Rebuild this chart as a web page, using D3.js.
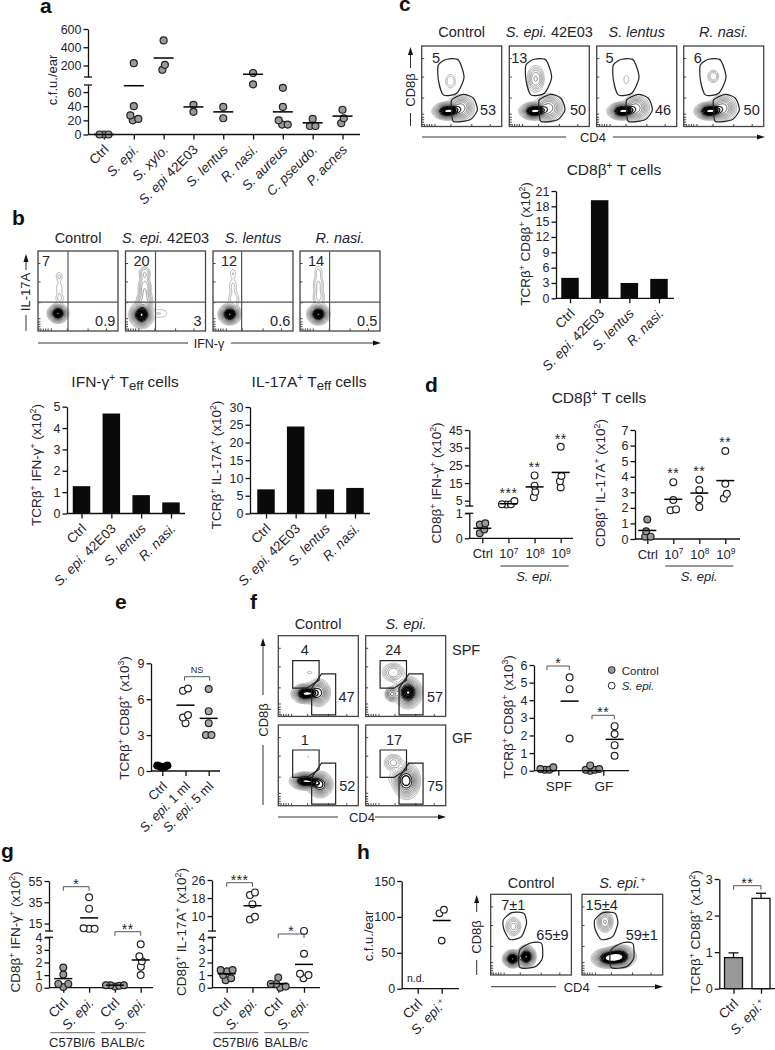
<!DOCTYPE html>
<html>
<head>
<meta charset="utf-8">
<script src="https://cdn.jsdelivr.net/npm/d3@7"></script>
<style>
body { margin: 0; background: #fff; }
text { font-family: "Liberation Sans", Arial, sans-serif; fill: #24242c; }
.tick text { fill: #24242c; }
</style>
</head>
<body>
<script>
// panel a
var aCats = ["Ctrl", "_S. epi._", "_S. xylo._", "_S. epi_ 42E03", "_S. lentus_", "_R. nasi._", "_S. aureus_", "_C. pseudo._", "_P. acnes_"];
var aVals = [[0, 0, 0], [225, 40, 27, 20, 22], [475, 207, 153], [42, 32], [39, 23], [118, 71], [66, 39, 20, 14, 14], [22, 12, 12], [35, 23, 16]];
var aMeans = [0, 69, 282, 39, 32, 104, 32, 16.5, 26];

// panel b
var bBarCats = ["Ctrl", "_S. epi._ 42E03", "_S. lentus_", "_R. nasi._"];
var bIfn = [1.28, 4.68, 0.86, 0.52];
var bIl17 = [6.8, 24.5, 6.8, 7.2];
var bTitles = ["Control", "_S. epi._ 42E03", "_S. lentus_", "_R. nasi._"];
var bQ = [["7", "0.9"], ["20", "3"], ["12", "0.6"], ["14", "0.5"]];
// populations: cx, cy, sdx, sdy, peak (in plot units)
var bPops = [
  [[.25, .22, .06, .055, 1], [.265, .68, .028, .04, .1], [.265, .54, .03, .05, .08], [.27, .41, .035, .05, .1]],
  [[.2, .2, .07, .075, 1], [.24, .72, .04, .05, .2], [.24, .55, .045, .07, .25], [.24, .38, .055, .07, .28], [.43, .22, .07, .04, .09]],
  [[.21, .21, .065, .06, 1], [.25, .72, .026, .04, .09], [.25, .56, .033, .06, .1], [.26, .4, .045, .06, .12]],
  [[.23, .21, .065, .06, 1], [.23, .74, .033, .05, .1], [.23, .58, .04, .07, .15], [.235, .42, .045, .06, .15]]
];

// panel c
var cTitles = ["Control", "_S. epi._ 42E03", "_S. lentus_", "_R. nasi._"];
var cQ = [["5", "53"], ["13", "50"], ["5", "46"], ["6", "50"]];
var cPops = [
  [[.31, .186, .08, .05, 1], [.49, .225, .08, .08, .6], [.36, .56, .04, .055, .14]],
  [[.3, .186, .08, .05, 1], [.49, .225, .085, .085, .6], [.33, .59, .055, .085, .36]],
  [[.31, .186, .08, .05, 1], [.49, .225, .08, .08, .6], [.37, .58, .03, .05, .07]],
  [[.31, .186, .08, .05, 1], [.49, .225, .08, .08, .6], [.37, .62, .04, .045, .2]]
];
var cGateUp = [[.208, .764], [.3125, .835], [.458, .826], [.529, .612], [.4375, .413], [.271, .393], [.208, .579]];
var cGateLow = [[.375, .33], [.52, .4], [.646, .351], [.696, .207], [.604, .083], [.396, .062], [.375, .207]];
var cBars = [4, 19.2, 3, 3.8];

// panel d
var dCats = ["Ctrl", "10^7^", "10^8^", "10^9^"];
var dIfn = [[.6, .55, .2, .35], [3, 2.8, 3, 4.8], [19.3, 13.5, 10, 7], [35.5, 19, 16, 12.5]];
var dIfnMeans = [.4, 3.3, 12.8, 21];
var dIl17 = [[1.25, .5, .15, .15], [3.65, 2.5, 1.85, 1.9], [3.8, 3.15, 2.55, 2.05], [5.65, 3.55, 2.9, 2.6]];
var dIl17Means = [.55, 2.55, 2.95, 3.75];

// panel e
var eCats = ["Ctrl", "_S. epi._ 1 ml", "_S. epi._ 5 ml"];
var eVals = [[.45, .4, .35, .45, .3], [6.9, 6.7, 4.67, 4.47, 4], [6.85, 5, 4, 3, 3]];
var eMeans = [.4, 5.5, 4.4];

// panel f
var fGroups = ["SPF", "GF"];
var fSeries = ["Control", "_S. epi._"];
var fControl = [[.2, .1, .05, .05], [.3, .1, .05, 0, .05]];
var fEpi = [[5.3, 4.63, 1.83], [2.53, 2.08, 1.45, .85]];
var fEpiMeans = [3.95, 1.78];
var fQ = [["4", "47"], ["24", "57"], ["1", "52"], ["17", "75"]];
var fPops = [
  [[.33, .276, .075, .055, 1], [.5, .288, .07, .08, .7], [.39, .54, .03, .015, .07]],
  [[.346, .54, .07, .06, .35], [.325, .27, .04, .045, .55], [.53, .29, .08, .09, 1]],
  [[.33, .3, .085, .05, 1], [.52, .256, .075, .075, .8], [.375, .6, .008, .008, .06]],
  [[.346, .53, .06, .055, .3], [.51, .3, .08, .105, .8], [.4, .33, .09, .06, .08]]
];
var fGateUp = [[.18, .69], [.51, .69], [.51, .45], [.354, .35], [.18, .35]];
var fGateLow = [[.54, .527], [.717, .527], [.717, .02], [.417, .02], [.417, .35]];

// panel g
var gCats = ["Ctrl", "_S. epi._", "Ctrl", "_S. epi._"];
var gIfn = [[1.6, 1.05, .3, .3, .05], [39.7, 29, 10.5, 10, 10], [.2, .2, .15, .1, .2], [3.44, 2.5, 2.1, 1.67, 1]];
var gIfnMeans = [.72, 20.3, .2, 2.2];
var gIl17 = [[1.4, 1.4, 1.3, .75, .6, 1], [20.5, 19.3, 15.3, 9.7, 8.5], [.8, .3, .3, 0, .1], [3.45, 2.7, 1.1, 1, .75]];
var gIl17Means = [1.1, 14.6, .33, 1.85];

// panel h
var hCats = ["Ctrl", "_S. epi._^+^"];
var hCfu = [[], [110, 105, 67]];
var hCfuMeans = [null, 95];
var hBars = [.85, 2.47];
var hErrs = [.13, .14];
var hTitles = ["Control", "_S. epi._^+^"];
var hQ = [["7±1", "65±9"], ["15±4", "59±1"]];
var hPops = [
  [[.28, .6, .05, .06, .3], [.27, .2, .055, .05, 1], [.44, .227, .055, .065, 1]],
  [[.285, .66, .05, .065, .45], [.305, .207, .085, .055, .9], [.47, .227, .09, .065, 1]]
];
var hGateUp = [[.156, .68], [.26, .773], [.41, .764], [.444, .64], [.38, .475], [.24, .44], [.165, .56]];
var hGateLow = [[.36, .31], [.506, .4], [.63, .39], [.64, .207], [.547, .1], [.36, .095]];

var flowTicks = [.03, .06, .09, .12, .16, .36, .62, .85];
var flowLevels = [.05, .09, .14, .2, .27, .35, .44, .54, .65, .76, .86, .94, .985];

var svg = d3.select("body").append("svg").attr("width", 775).attr("height", 1050);

// small markup: _italic_ ^sup^ ~sub~
function rich(sel, str, size) {
  sel.text(null);
  var off = 0;
  str.split(/(_[^_]*_|\^[^^]*\^|~[^~]*~)/).filter(Boolean).forEach(function(p) {
    var t = sel.append("tspan"), shift = 0, s = p;
    if (p[0] == "_") { s = p.slice(1, -1); t.style("font-style", "italic"); }
    if (p[0] == "^") { s = p.slice(1, -1); t.attr("font-size", size * .65); shift = -size * .36; }
    if (p[0] == "~") { s = p.slice(1, -1); t.attr("font-size", size * .85); shift = size * .18; }
    t.attr("dy", shift - off).text(s);
    off = shift;
  });
  return sel;
}

function label(x, y, str, size, anchor, weight) {
  var t = svg.append("text").attr("x", x).attr("y", y)
    .attr("font-size", size).attr("text-anchor", anchor || "middle");
  if (weight) t.attr("font-weight", weight);
  return rich(t, str, size);
}

function yLabel(x, y, str, size) {
  var t = svg.append("text").attr("text-anchor", "middle").attr("font-size", size)
    .attr("transform", "translate(" + x + "," + y + ") rotate(-90)");
  return rich(t, str, size);
}

function seg(x1, y1, x2, y2, color, w) {
  return svg.append("line").attr("x1", x1).attr("y1", y1).attr("x2", x2).attr("y2", y2)
    .attr("stroke", color || "#111").attr("stroke-width", w || 1.3);
}

// y axis, one piece or broken in two
function makeY(x, lower, upper) {
  var low = d3.scaleLinear().domain(lower.domain).range(lower.range);
  var up = upper ? d3.scaleLinear().domain(upper.domain).range(upper.range) : null;
  function drawPiece(scale, ticks) {
    var g = svg.append("g").attr("transform", "translate(" + x + ",0)")
      .call(d3.axisLeft(scale).tickValues(ticks).tickSize(4.5).tickSizeOuter(0).tickPadding(2).tickFormat(d3.format("d")));
    g.selectAll("text").attr("font-size", 12.5);
    g.selectAll("line,path").attr("stroke", "#111").attr("stroke-width", 1.3);
    g.select("path").attr("fill", "none");
  }
  drawPiece(low, lower.ticks);
  if (up) {
    drawPiece(up, upper.ticks);
    seg(x - 4, low.range()[1], x + 4, low.range()[1]);
    seg(x - 4, up.range()[0], x + 4, up.range()[0]);
  }
  return function(v) { return up && v >= up.domain()[0] ? up(v) : low(v); };
}

function xAxis(axisX, y0, xEnd, x, cats, rotated, size) {
  var g = svg.append("g").attr("transform", "translate(0," + y0 + ")")
    .call(d3.axisBottom(x).tickSize(5).tickSizeOuter(0).tickFormat(""));
  g.select("path").remove();
  g.selectAll("line").attr("stroke", "#111").attr("stroke-width", 1.3);
  seg(axisX, y0, xEnd, y0);
  g.selectAll(".tick").each(function(d, i) {
    var t = d3.select(this).append("text").attr("font-size", size);
    if (rotated) {
      t.attr("text-anchor", "end").attr("transform", "translate(5,16) rotate(-45)");
    } else {
      t.attr("text-anchor", "middle").attr("y", 20);
    }
    rich(t, cats[i], size);
  });
}

// spread overlapping points sideways, the way the plotting program does
function dodge(ys, gap) {
  var pts = ys.map(function(y) { return { y: y, dx: 0 }; }).sort(function(a, b) { return b.y - a.y; });
  var placed = [];
  pts.forEach(function(p) {
    for (var k = 0; k < 60; k++) {
      var dx = (k % 2 ? 1 : -1) * Math.ceil(k / 2) * .5;
      var ok = placed.every(function(q) {
        return Math.hypot(q.dx - dx, q.y - p.y) >= gap;
      });
      if (ok) { p.dx = dx; placed.push(p); break; }
    }
  });
  var start = 0;
  for (var i = 1; i <= pts.length; i++) {
    if (i == pts.length || pts[i - 1].y - pts[i].y >= gap) {
      var cl = pts.slice(start, i), m = d3.mean(cl, function(p) { return p.dx; });
      cl.forEach(function(p) { p.dx -= m; });
      start = i;
    }
  }
  return pts;
}

function dots(x, y, vals, fill, r, gap) {
  var pts = dodge(vals.map(y), gap);
  svg.append("g").selectAll("circle").data(pts).join("circle")
    .attr("cx", function(d) { return x + d.dx; })
    .attr("cy", function(d) { return d.y; })
    .attr("r", r)
    .attr("fill", fill)
    .attr("stroke", fill == "#000" ? "#000" : "#222")
    .attr("stroke-width", 1.2);
}

function meanLine(x, y, half) {
  seg(x - half, y, x + half, y, "#000", 1.5);
}

function dotPanel(o) {
  var y = makeY(o.axisX, o.lower, o.upper);
  var x = d3.scalePoint().domain(d3.range(o.cats.length)).range(o.xs);
  xAxis(o.axisX, o.lower.range[0], o.xEnd, x, o.cats, o.rotated, o.labelSize || 13.5);
  o.vals.forEach(function(v, i) {
    dots(x(i), y, v, o.fills[i], o.r || 3.6, o.gaps ? o.gaps[i] : 5.5);
    if (o.means[i] != null) meanLine(x(i), y(o.means[i]), o.half || 9);
  });
  return x;
}

function barPanel(o) {
  var y = makeY(o.axisX, { domain: o.domain, range: o.range, ticks: o.ticks });
  var x = d3.scalePoint().domain(d3.range(o.cats.length)).range(o.xs);
  var y0 = o.range[0];
  svg.append("g").selectAll("rect").data(o.vals).join("rect")
    .attr("x", function(d, i) { return x(i) - o.width / 2; })
    .attr("y", function(d) { return y(d); })
    .attr("width", o.width)
    .attr("height", function(d) { return y0 - y(d); })
    .attr("fill", function(d, i) { return o.fills ? o.fills[i] : "#0a0a0a"; })
    .attr("stroke", "#111").attr("stroke-width", o.fills ? 1.3 : 0);
  if (o.errs) {
    o.errs.forEach(function(e, i) {
      var top = y(o.vals[i] + e);
      seg(x(i), y(o.vals[i]), x(i), top);
      seg(x(i) - 5, top, x(i) + 5, top);
    });
  }
  xAxis(o.axisX, y0, o.xEnd, x, o.cats, true, 13.5);
  return x;
}

function bracket(x0, x1, y, txt, size) {
  svg.append("path")
    .attr("d", "M" + x0 + "," + (y + 4) + "V" + y + "H" + x1 + "V" + (y + 4))
    .attr("fill", "none").attr("stroke", "#555").attr("stroke-width", 1);
  stars((x0 + x1) / 2, y - 4.5, txt, size);
}

function stars(x, y, txt, size) {
  if (txt == "NS") {
    label(x, y + 1, "NS", 9);
  } else {
    label(x, y + 6.5, txt, size || 14).attr("letter-spacing", .5);
  }
}

// a flow plot: mixture of populations, contoured. Flat-topped blobs give the
// dark ring the cytometry software draws around a dense population
function flow(x0, y0, w, h, pops, gates, curve, nums) {
  var n = 160;
  var values = new Float64Array(n * n);
  for (var j = 0; j < n; j++) {
    for (var i = 0; i < n; i++) {
      var px = (i + .5) / n, py = 1 - (j + .5) / n, s = 0;
      pops.forEach(function(p) {
        var a = (px - p[0]) / p[2], b = (py - p[1]) / p[3];
        s += p[4] * Math.exp(-.5 * Math.pow(Math.hypot(a, b) / 1.15, 2.6));
      });
      values[i + j * n] = s;
    }
  }
  var g = svg.append("g").attr("transform", "translate(" + x0 + "," + y0 + ")");
  var sx = d3.scaleLinear().domain([0, 1]).range([0, w]);
  var sy = d3.scaleLinear().domain([0, 1]).range([h, 0]);
  var path = d3.geoPath(d3.geoIdentity().scale(w / n));
  var tone = d3.scaleLinear().domain([.05, .4, .85]).range(["#8c8c8c", "#555", "#000"]).clamp(true);
  var wide = d3.scaleLinear().domain([.05, .5, .9]).range([.65, .8, 1.7]).clamp(true);
  g.selectAll("path.c").data(d3.contours().size([n, n]).thresholds(flowLevels)(values)).join("path")
    .attr("class", "c")
    .attr("d", path)
    .attr("fill", "none")
    .attr("stroke", function(d) { return tone(d.value); })
    .attr("stroke-width", function(d) { return wide(d.value); });

  var gx = g.append("g").attr("transform", "translate(0," + h + ")")
    .call(d3.axisBottom(sx).tickValues(flowTicks).tickSize(-2.5).tickFormat(""));
  var gy = g.append("g")
    .call(d3.axisLeft(sy).tickValues(flowTicks).tickSize(-2.5).tickFormat(""));
  [gx, gy].forEach(function(a) {
    a.select("path").remove();
    a.selectAll("line").attr("stroke", "#444").attr("stroke-width", 1);
  });
  g.append("rect").attr("width", w).attr("height", h).attr("fill", "none")
    .attr("stroke", "#444").attr("stroke-width", 1.3);

  var line = d3.line().x(function(d) { return sx(d[0]); }).y(function(d) { return sy(d[1]); }).curve(curve);
  (gates || []).forEach(function(q) {
    g.append("path").attr("d", line(q)).attr("fill", "none").attr("stroke", "#222").attr("stroke-width", 1.2);
  });
  (nums || []).forEach(function(t) {
    g.append("text").attr("x", sx(t[1])).attr("y", sy(t[2]) + 5.5)
      .attr("font-size", 14.5).attr("text-anchor", "middle").text(t[0]);
  });
  return { sx: sx, sy: sy, g: g };
}

function arrowRight(x1, x2, y) {
  seg(x1, y, x2 - 7, y, "#333", 1);
  svg.append("path").attr("d", "M" + x2 + "," + y + "l-8,-2.5v5z").attr("fill", "#111");
}

function arrowUp(x, y1, y2) {
  seg(x, y1, x, y2 + 7, "#333", 1);
  svg.append("path").attr("d", "M" + x + "," + y2 + "l-2.5,8h5z").attr("fill", "#111");
}

// ---------------- panel letters
[["a", 40, 13], ["b", 12, 225], ["c", 399, 11], ["d", 425, 392], ["e", 115, 609], ["f", 250, 609], ["g", 1, 858], ["h", 357, 859]]
  .forEach(function(d) { label(d[1], d[2], d[0], 21, "start", "bold").style("fill", "#111"); });

// ---------------- a
dotPanel({
  axisX: 88, xs: [104, 342.5], xEnd: 360, cats: aCats, vals: aVals, means: aMeans, rotated: true,
  lower: { domain: [0, 70], range: [134.5, 85], ticks: [0, 20, 40, 60] },
  upper: { domain: [74, 600], range: [77, 29], ticks: [200, 400, 600] },
  fills: aVals.map(function() { return "#999"; }), half: 10, r: 3.5,
  gaps: [4.5, 5.5, 5.5, 5.5, 5.5, 5.5, 5.5, 5.5, 5.5]
});
yLabel(57, 80, "c.f.u./ear", 13);

// ---------------- b
var bBoxes = [38, 125.5, 213, 300];
var bVert = [.375, .375, .358, .37];
bBoxes.forEach(function(x, i) {
  var f = flow(x, 251, 80, 80, bPops[i], null, d3.curveLinearClosed, [
    [bQ[i][0], i == 0 ? .1 : .2, .88],
    [bQ[i][1], i == 1 ? .9 : .84, .13]
  ]);
  f.g.append("line").attr("x1", f.sx(bVert[i])).attr("x2", f.sx(bVert[i])).attr("y1", 0).attr("y2", 80).attr("stroke", "#555").attr("stroke-width", 1.2);
  f.g.append("line").attr("x1", 0).attr("x2", 80).attr("y1", f.sy(.36)).attr("y2", f.sy(.36)).attr("stroke", "#555").attr("stroke-width", 1.2);
  label(x + 40, 243, bTitles[i], 14.5);
});
yLabel(30, 292, "IL-17A", 13);
seg(26, 331, 26, 315, "#333", 1);
arrowUp(26, 270, 254);
seg(38, 343, 188, 343, "#333", 1);
label(209, 348, "IFN-γ", 12.5);
arrowRight(231, 381, 343);

label(125, 387, "IFN-γ^+^ T~eff~ cells", 15.5);
label(309, 387, "IL-17A^+^ T~eff~ cells", 15.5);
barPanel({
  axisX: 67, xs: [81.5, 171], xEnd: 185, width: 17.5, cats: bBarCats, vals: bIfn,
  domain: [0, 5], range: [513.5, 406.7], ticks: [0, 1, 2, 3, 4, 5]
});
barPanel({
  axisX: 250, xs: [266, 355], xEnd: 370, width: 17.5, cats: bBarCats, vals: bIl17,
  domain: [0, 30], range: [513.5, 407], ticks: [0, 5, 10, 15, 20, 25, 30]
});
yLabel(41, 465, "TCRβ^+^ IFN-γ^+^ (x10^2^)", 13.5);
yLabel(221, 465, "TCRβ^+^ IL-17A^+^ (x10^2^)", 13.5);

// ---------------- c
var cBoxes = [421.7, 509.3, 596.7, 683.7];
var cNum = [[.18, .83], [.125, .86], [.16, .83], [.175, .85]];
cBoxes.forEach(function(x, i) {
  flow(x, 46, 80, 80.5, cPops[i], [cGateUp, cGateLow], d3.curveCardinalClosed.tension(.3), [
    [cQ[i][0], cNum[i][0], .86],
    [cQ[i][1], cNum[i][1], .207]
  ]);
  label(x + 40, 37, cTitles[i], 14.5);
});
yLabel(415, 90, "CD8β", 13);
arrowUp(410.5, 68, 47);
seg(410.5, 113, 410.5, 126, "#333", 1);
seg(422, 137, 566, 137, "#333", 1);
label(593, 142, "CD4", 13);
arrowRight(613, 765, 137);

label(614, 175, "CD8β^+^ T cells", 15.5);
barPanel({
  axisX: 556, xs: [570, 659], xEnd: 674, width: 17.5, cats: bBarCats, vals: cBars,
  domain: [0, 21], range: [298.3, 191], ticks: [0, 3, 6, 9, 12, 15, 18, 21]
});
yLabel(530, 244, "TCRβ^+^ CD8β^+^ (x10^2^)", 13.5);

// ---------------- d
label(599, 403, "CD8β^+^ T cells", 15.5);
var dFills = ["#999", "#fff", "#fff", "#fff"];
var dLeft = dotPanel({
  axisX: 469.3, xs: [482.3, 560.7], xEnd: 573, cats: dCats, vals: dIfn, means: dIfnMeans, labelSize: 13,
  lower: { domain: [0, 1], range: [538.3, 513.3], ticks: [0, 1] },
  upper: { domain: [2, 45], range: [506, 430], ticks: [5, 15, 25, 35, 45] },
  fills: dFills, r: 3.4, gaps: [5.5, 4.5, 5.5, 5.5]
});
var dRight = dotPanel({
  axisX: 635, xs: [647.3, 725.3], xEnd: 740, cats: dCats, vals: dIl17, means: dIl17Means, labelSize: 13,
  lower: { domain: [0, 7], range: [539, 430], ticks: d3.range(8) },
  fills: dFills, r: 3.4
});
[[dLeft, 1, "***", 491], [dLeft, 2, "**", 465], [dLeft, 3, "**", 437], [dRight, 1, "**", 471.7], [dRight, 2, "**", 469], [dRight, 3, "**", 440.7]]
  .forEach(function(d) { stars(d[0](d[1]), d[3], d[2], 14); });
seg(dLeft(1) - 8, 566, dLeft(3) + 8, 566, "#333", 1);
seg(dRight(1) - 8, 566, dRight(3) + 8, 566, "#333", 1);
label(dLeft(2), 581, "_S. epi._", 13);
label(dRight(2), 581, "_S. epi._", 13);
yLabel(441, 483, "CD8β^+^ IFN-γ^+^ (x10^2^)", 13.5);
yLabel(605, 483, "CD8β^+^ IL-17A^+^ (x10^2^)", 13.5);

// ---------------- e
var eX = dotPanel({
  axisX: 151, xs: [162.3, 208.7], xEnd: 220, cats: eCats, vals: eVals, means: eMeans, rotated: true, labelSize: 13,
  lower: { domain: [0, 9], range: [771, 663.3], ticks: [0, 3, 6, 9] },
  fills: ["#000", "#fff", "#aaa"], r: 3.4, gaps: [2.5, 5.5, 5.5]
});
bracket(eX(1) - 1, eX(2) + 1, 676.7, "NS");
yLabel(129, 718, "TCRβ^+^ CD8β^+^ (x10^3^)", 13.5);

// ---------------- f
var fBoxes = [[278.3, 635.7], [365.7, 635.7], [278.3, 725], [365.7, 725]];
var fNumX = [[.33, .854], [.346, .867], [.33, .862], [.354, .867]];
fBoxes.forEach(function(b, i) {
  flow(b[0], b[1], 80, 80.7, fPops[i], [fGateUp, fGateLow], d3.curveLinearClosed, [
    [fQ[i][0], fNumX[i][0], .825],
    [fQ[i][1], fNumX[i][1], .247]
  ]);
});
label(318, 629, "Control", 14.5);
label(406, 629, "_S. epi._", 14.5);
label(452, 655, "SPF", 14.5, "start");
label(452, 743, "GF", 14.5, "start");
yLabel(268, 720, "CD8β", 13);
arrowUp(263, 695, 638);
seg(263, 745, 263, 805, "#333", 1);
seg(278, 817, 338, 817, "#333", 1);
label(362, 822, "CD4", 13);
arrowRight(375, 446, 817);

var fY = makeY(534, { domain: [0, 6], range: [770.7, 665], ticks: d3.range(7) });
var fX = d3.scalePoint().domain(fGroups).range([558.3, 603.3]);
var fOff = d3.scalePoint().domain(fSeries).range([-11.3, 11.3]);
xAxis(534, 770.7, 629, fX, fGroups, false, 13.5);
fGroups.forEach(function(g, i) {
  var a = fX(g) + fOff(fSeries[0]), b = fX(g) + fOff(fSeries[1]);
  dots(a, fY, fControl[i], "#999", 3.4, 4.5);
  dots(b, fY, fEpi[i], "#fff", 3.4, 5.5);
  meanLine(b, fY(fEpiMeans[i]), 9);
  meanLine(a, fY(0), 9);
});
bracket(fX("SPF") - 11.3, fX("SPF") + 11, 666, "*");
bracket(fX("GF") - 11.3, fX("GF") + 11, 715.3, "**");
yLabel(513, 717, "TCRβ^+^ CD8β^+^ (x10^3^)", 13.5);
svg.append("circle").attr("cx", 611.7).attr("cy", 670).attr("r", 3.4).attr("fill", "#999").attr("stroke", "#222");
svg.append("circle").attr("cx", 611.7).attr("cy", 685.7).attr("r", 3.4).attr("fill", "#fff").attr("stroke", "#222");
label(621.7, 674.5, fSeries[0], 11.5, "start");
label(621.7, 690, fSeries[1], 11.5, "start");

// ---------------- g
var gFills = ["#999", "#fff", "#999", "#fff"];
var gLeft = dotPanel({
  axisX: 49, xs: [63.3, 140.7], xEnd: 153, cats: gCats, vals: gIfn, means: gIfnMeans, rotated: true,
  lower: { domain: [0, 4], range: [987.7, 937.3], ticks: [0, 1, 2, 3, 4] },
  upper: { domain: [8, 55], range: [931, 881], ticks: [15, 35, 55] },
  fills: gFills, r: 3.4, gaps: [5.5, 5.5, 4.5, 5.5]
});
var gRight = dotPanel({
  axisX: 212, xs: [226.7, 304], xEnd: 320, cats: gCats, vals: gIl17, means: gIl17Means, rotated: true,
  lower: { domain: [0, 4], range: [987.7, 937.3], ticks: [0, 1, 2, 3, 4] },
  upper: { domain: [3.4, 26], range: [931, 880], ticks: [10, 18, 26] },
  fills: gFills, r: 3.4
});
bracket(gLeft(0), gLeft(1), 886.7, "*");
bracket(gLeft(2), gLeft(3), 931.7, "**");
bracket(gRight(0), gRight(1), 882.7, "***");
bracket(gRight(2), gRight(3), 934, "*");
[gLeft, gRight].forEach(function(x) {
  seg(x(0) - 13, 1032.7, x(1) + 6, 1032.7, "#666", 1);
  seg(x(2) - 14, 1032.7, x(3) + 5, 1032.7, "#666", 1);
  label((x(0) + x(1)) / 2 - 4, 1047, "C57Bl/6", 13);
  label((x(2) + x(3)) / 2 - 5, 1047, "BALB/c", 13);
});
yLabel(20, 932, "CD8β^+^ IFN-γ^+^ (x10^2^)", 13.5);
yLabel(186, 932, "CD8β^+^ IL-17A^+^ (x10^2^)", 13.5);

// ---------------- h
dotPanel({
  axisX: 401.7, xs: [417.7, 441.7], xEnd: 459, cats: hCats, vals: hCfu, means: hCfuMeans, rotated: true,
  lower: { domain: [0, 150], range: [988.7, 881], ticks: [0, 50, 100, 150] },
  fills: ["#fff", "#fff"], r: 3.3
});
label(407, 982, "n.d.", 10.5, "start");
yLabel(373, 936, "c.f.u./ear", 13);

var hBoxes = [490.7, 582];
var hNum = [[.28, .765], [.244, .74]];
hBoxes.forEach(function(x, i) {
  flow(x, 894.3, 80.7, 80.7, hPops[i], [hGateUp, hGateLow], d3.curveCardinalClosed.tension(.3), [
    [hQ[i][0], hNum[i][0], .868],
    [hQ[i][1], hNum[i][1], .496]
  ]);
  label(x + 40.5, 888, hTitles[i], 14.5);
});
yLabel(481, 937, "CD8β", 13);
arrowUp(476.7, 912, 895);
seg(476.7, 960, 476.7, 975, "#333", 1);
seg(491, 986.7, 556, 986.7, "#333", 1);
label(576.7, 991.5, "CD4", 13);
arrowRight(598, 663, 986.7);

var hX = barPanel({
  axisX: 719.3, xs: [733.5, 761], xEnd: 775, width: 18, cats: hCats, vals: hBars, errs: hErrs,
  domain: [0, 3], range: [988.7, 879], ticks: [0, 1, 2, 3], fills: ["#999", "#fff"]
});
bracket(hX(0), hX(1), 885.7, "**");
yLabel(700, 932, "TCRβ^+^ CD8β^+^ (x10^2^)", 13.5);
</script>
</body>
</html>
